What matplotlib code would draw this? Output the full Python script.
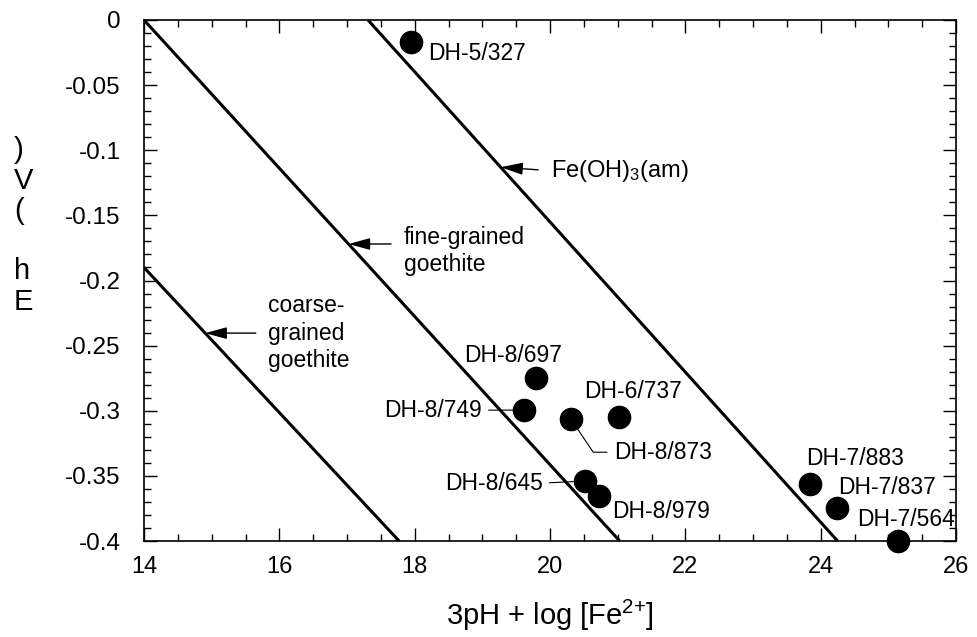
import matplotlib
matplotlib.use('Agg')
import matplotlib.pyplot as plt
import numpy as np
from matplotlib.ticker import MultipleLocator, FuncFormatter

plt.rcParams['font.family'] = ['Liberation Sans', 'DejaVu Sans']
plt.rcParams['mathtext.default'] = 'regular'
plt.rcParams['axes.unicode_minus'] = False

# muestras (3pH + log[Fe2+], Eh)
samples = ['DH-5/327', 'DH-8/697', 'DH-8/749', 'DH-8/873', 'DH-6/737',
           'DH-8/645', 'DH-8/979', 'DH-7/883', 'DH-7/837', 'DH-7/564']
x_vals = [17.94, 19.80, 19.61, 20.31, 21.02, 20.51, 20.72, 23.84, 24.24, 25.14]
eh_vals = [-0.017, -0.275, -0.2995, -0.3065, -0.305, -0.354, -0.3656,
           -0.356, -0.375, -0.400]

# lineas de equilibrio
fe_am_x = [17.31, 24.25]
fe_am_y = [0.0, -0.4]
fine_x = [14.0, 21.03]
fine_y = [0.0, -0.4]
coarse_x = [14.0, 17.77]
coarse_y = [-0.19, -0.4]

# posicion de las etiquetas (offset en pixeles, alineacion, tipo de guia)
label_pos = {
    'DH-5/327': (18, -11, 'left', None),
    'DH-8/697': (-23, 23, 'center', None),
    'DH-8/749': (-42, 0, 'right', 'straight'),
    'DH-8/873': (43, -33, 'left', 'bent'),
    'DH-6/737': (14, 26, 'center', None),
    'DH-8/645': (-42, -2, 'right', 'straight'),
    'DH-8/979': (13, -15, 'left', None),
    'DH-7/883': (-4, 25, 'left', None),
    'DH-7/837': (1, 21, 'left', None),
    'DH-7/564': (-41, 22, 'left', None),
}


def x_on_line(lx, ly, eh):
    # x de la recta para un Eh dado
    return float(np.interp(eh, ly[::-1], lx[::-1]))


def main():
    fig = plt.figure(figsize=(9.77, 6.37), dpi=100)
    ax = fig.add_axes([144 / 977, 1 - 541 / 637, 812 / 977, 521 / 637])

    for lx, ly in [(fe_am_x, fe_am_y), (fine_x, fine_y), (coarse_x, coarse_y)]:
        ax.plot(lx, ly, color='black', lw=2.2, solid_capstyle='butt')

    ax.plot(x_vals, eh_vals, 'o', color='black', ms=16, clip_on=False, zorder=5)

    for name, xv, yv in zip(samples, x_vals, eh_vals):
        dx, dy, ha, leader = label_pos[name]
        props = None
        if leader == 'straight':
            props = dict(arrowstyle='-', lw=0.8, color='black',
                         relpos=(1 if ha == 'right' else 0, 0.5),
                         shrinkA=3, shrinkB=8)
        elif leader == 'bent':
            props = dict(arrowstyle='-', lw=0.8, color='black', relpos=(0, 0.5),
                         connectionstyle='angle,angleA=180,angleB=-56,rad=0',
                         shrinkA=3, shrinkB=7)
        ax.annotate(name, xy=(xv, yv), xytext=(dx, dy), textcoords='offset pixels',
                    ha=ha, va='center', fontsize=16.5, arrowprops=props, zorder=6)

    arrow = dict(arrowstyle='-|>,head_length=0.8,head_width=0.22', lw=1,
                 color='black', shrinkA=7, shrinkB=0)

    eh = -0.113
    ax.annotate(r'Fe(OH)$_{3}$(am)', xy=(x_on_line(fe_am_x, fe_am_y, eh), eh),
                xytext=(50, 0), textcoords='offset pixels', ha='left',
                va='center_baseline', fontsize=17,
                arrowprops=dict(arrow, relpos=(0, 0.5)))

    eh = -0.172
    ax.annotate('fine-grained\ngoethite', xy=(x_on_line(fine_x, fine_y, eh), eh),
                xytext=(55, -7), textcoords='offset pixels', ha='left',
                va='center', fontsize=16.5, linespacing=1.25,
                arrowprops=dict(arrow, relpos=(0, 0.64)))

    eh = -0.2404
    ax.annotate('coarse-\ngrained\ngoethite', xy=(x_on_line(coarse_x, coarse_y, eh), eh),
                xytext=(63, 0), textcoords='offset pixels', ha='left',
                va='center', fontsize=16.5, linespacing=1.25,
                arrowprops=dict(arrow, relpos=(0, 0.5)))

    ax.set_xlim(14, 26)
    ax.set_ylim(-0.4, 0)
    ax.xaxis.set_major_locator(MultipleLocator(2))
    ax.xaxis.set_minor_locator(MultipleLocator(0.5))
    ax.yaxis.set_major_locator(MultipleLocator(0.05))
    ax.yaxis.set_minor_locator(MultipleLocator(0.01))
    ax.yaxis.set_major_formatter(FuncFormatter(lambda v, p: '%g' % round(v, 3)))

    ax.tick_params(which='both', direction='in', top=True, right=True, width=1)
    ax.tick_params(which='major', length=9.5)
    ax.tick_params(which='minor', length=5)
    ax.tick_params(axis='x', labelsize=17, pad=11)
    ax.tick_params(axis='y', labelsize=17.5, pad=17)
    for s in ax.spines.values():
        s.set_linewidth(1.2)

    ax.set_xlabel(r'3pH + log [Fe$^{2{+}}$]', fontsize=21, labelpad=14)
    # etiqueta del eje y apilada letra a letra
    fig.text(14 / 977, 1 - 226 / 637, ')\nV\n(\n \nh\nE', ha='left', va='center',
             multialignment='left', fontsize=21, linespacing=1.1)

    fig.savefig('out.png', dpi=100)


if __name__ == '__main__':
    main()
